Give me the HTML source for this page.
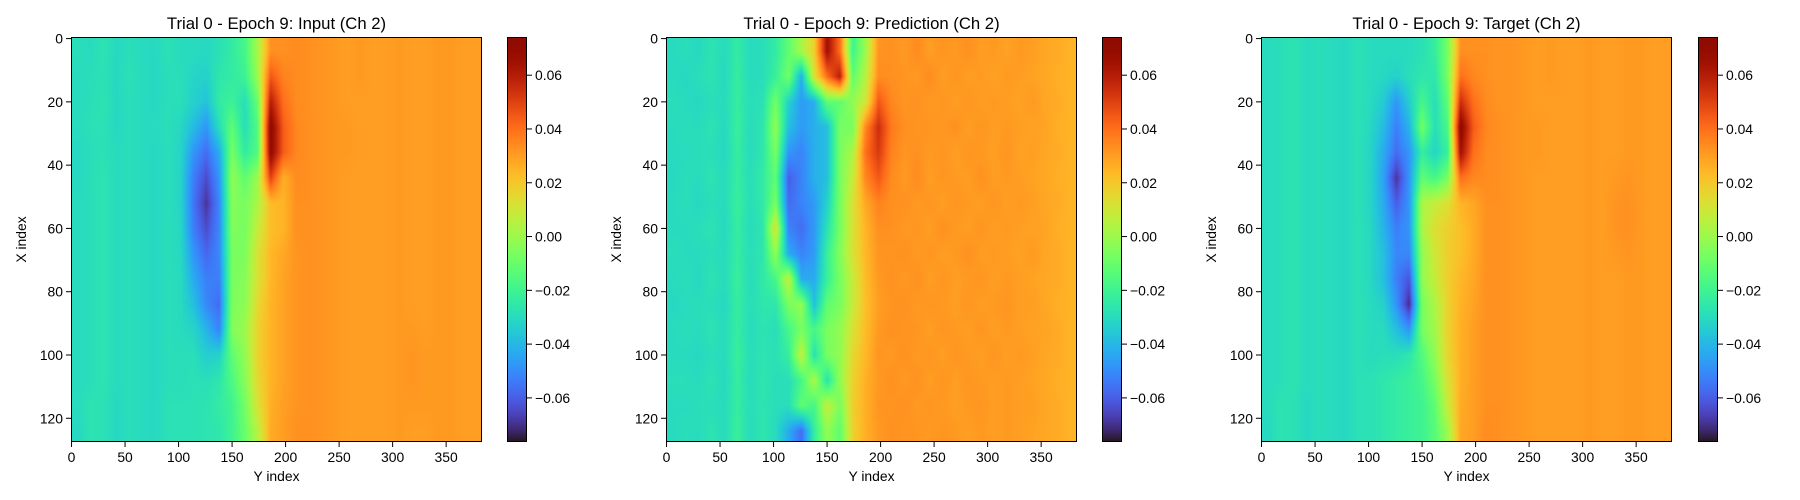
<!DOCTYPE html>
<html><head><meta charset="utf-8">
<style>
html,body{margin:0;padding:0;background:#fff;}
#fig{position:relative;width:1800px;height:500px;overflow:hidden;font-family:"Liberation Sans","DejaVu Sans",sans-serif;}
canvas{position:absolute;}
svg{position:absolute;left:0;top:0;}
</style></head>
<body>
<div id="fig">
<canvas id="c0"></canvas>
<canvas id="c1"></canvas>
<canvas id="c2"></canvas>
<canvas id="cb0"></canvas>
<canvas id="cb1"></canvas>
<canvas id="cb2"></canvas>
<svg id="ov" width="1800" height="500"></svg>
</div>
<script>
// ---- data (values in units of 0.001), rows = X index (step 8), cols = Y index (step 12)
const titles = ["Trial 0 - Epoch 9: Input (Ch 2)","Trial 0 - Epoch 9: Prediction (Ch 2)","Trial 0 - Epoch 9: Target (Ch 2)"];
const xTicks = [0,50,100,150,200,250,300,350];
const yTicks = [0,20,40,60,80,100,120];
const cbTicks = [-0.06,-0.04,-0.02,0.00,0.02,0.04,0.06];
const cbLabels = ["\u22120.06","\u22120.04","\u22120.02","0.00","0.02","0.04","0.06"];
const vmin = -0.0764, vmax = 0.0742;
const nX = 128, nY = 384;

const inputGrid = [
[-29,-30,-27,-31,-29,-30,-31,-28,-30,-30,-31,-28,-24,-18,2,33,33,34,33,32,31,30,31,30,30,31,30,30,31,31,30,30],
[-30,-29,-28,-31,-28,-30,-31,-29,-29,-32,-33,-26,-24,-21,0,45,36,34,33,32,31,30,31,30,30,31,30,30,31,31,30,30],
[-30,-29,-27,-31,-29,-30,-31,-29,-29,-33,-37,-24,-21,-29,-10,60,40,34,33,32,31,30,30,30,30,31,30,30,31,31,30,30],
[-30,-28,-28,-31,-29,-30,-30,-29,-31,-39,-48,-29,-12,-29,-15,72,44,35,33,32,31,31,30,30,30,31,30,30,31,31,30,30],
[-31,-29,-28,-30,-29,-30,-31,-29,-32,-48,-57,-43,-7,-24,-15,70,44,35,33,32,31,31,30,30,30,31,30,30,31,31,30,30],
[-31,-29,-27,-30,-29,-30,-31,-29,-32,-53,-64,-48,-2,-12,0,50,26,34,33,32,31,30,30,30,30,31,30,30,31,31,30,30],
[-30,-29,-27,-30,-29,-30,-31,-29,-32,-55,-69,-51,-4,-7,3,23,25,33,33,32,31,30,30,30,30,31,30,30,31,31,30,30],
[-30,-29,-27,-30,-29,-30,-31,-29,-31,-53,-64,-51,-5,-7,8,22,25,33,33,32,31,30,30,30,30,31,30,30,31,31,30,30],
[-30,-29,-27,-30,-29,-30,-31,-29,-31,-48,-58,-51,-7,-6,12,24,28,32,33,32,31,30,30,30,30,31,30,30,31,31,30,30],
[-30,-29,-27,-30,-29,-30,-31,-29,-30,-43,-53,-53,-7,-4,12,24,29,32,33,32,31,30,30,30,30,31,30,30,31,31,30,30],
[-30,-29,-27,-30,-29,-30,-31,-29,-30,-38,-51,-57,-6,-3,15,25,29,32,33,32,31,30,30,30,30,31,30,30,31,31,30,30],
[-30,-29,-27,-30,-29,-30,-31,-29,-30,-32,-41,-52,-5,0,17,25,29,32,33,32,31,30,30,30,30,31,31,30,31,31,30,30],
[-30,-29,-27,-30,-29,-30,-31,-29,-29,-29,-34,-33,-12,-2,17,25,29,32,33,32,31,30,30,30,30,31,32,31,31,31,30,30],
[-30,-29,-27,-30,-29,-30,-31,-29,-29,-28,-29,-26,-16,-4,15,25,29,32,33,32,31,30,30,30,30,31,32,31,31,31,30,30],
[-30,-27,-28,-31,-29,-30,-31,-28,-28,-28,-27,-24,-20,-8,12,26,30,32,33,32,31,30,30,30,30,31,31,31,31,31,30,30],
[-31,-27,-28,-31,-29,-30,-31,-28,-28,-28,-27,-26,-20,-10,5,27,30,33,33,32,31,30,30,30,30,31,30,30,31,31,30,30]
];
const predGrid = [
[-30,-29,-31,-27,-30,-24,-30,-29,-24,-12,2,18,65,40,-20,0,32,33,31,34,30,32,31,33,30,31,29,31,30,28,27,25],
[-30,-31,-29,-27,-31,-23,-30,-29,-22,-8,-42,12,40,60,-12,5,34,33,32,31,34,30,32,30,31,29,31,30,29,28,26,25],
[-29,-30,-31,-29,-30,-23,-29,-28,-8,-33,-47,-42,-12,-12,-2,10,45,35,32,33,31,32,30,32,30,31,30,29,31,28,27,25],
[-30,-29,-30,-27,-31,-22,-30,-26,-2,-38,-47,-42,-38,-7,-7,35,55,38,33,32,32,31,33,30,32,30,31,30,29,29,26,25],
[-30,-30,-29,-29,-31,-23,-30,-26,-7,-48,-52,-42,-38,-7,3,40,52,36,32,33,31,32,30,32,31,30,32,29,30,28,27,25],
[-31,-29,-30,-27,-30,-23,-29,-24,-12,-60,-52,-42,-38,-7,8,35,45,34,31,34,30,32,31,30,33,30,31,30,29,28,26,25],
[-30,-29,-31,-29,-30,-22,-29,-25,-7,-57,-52,-47,-33,-7,12,28,36,33,33,31,32,30,32,31,30,32,30,31,30,28,27,25],
[-30,-30,-29,-27,-31,-23,-30,-26,12,-52,-57,-47,-28,-7,12,25,33,33,31,32,30,33,31,30,32,30,31,30,29,29,26,25],
[-29,-30,-30,-29,-30,-23,-29,-26,-2,-43,-52,-47,-22,-5,12,24,32,32,33,31,32,30,31,33,30,31,30,29,31,28,27,25],
[-30,-29,-31,-27,-30,-22,-30,-25,-18,8,-43,-43,-22,-7,8,23,31,33,31,33,30,32,30,31,32,30,31,30,29,28,27,25],
[-31,-30,-29,-29,-31,-23,-29,-26,-26,-7,-2,-38,-12,-7,8,22,30,32,33,31,32,31,30,32,30,31,32,30,30,28,26,25],
[-30,-29,-30,-27,-30,-23,-30,-27,-29,-18,-7,-18,-7,-2,12,23,31,33,32,32,30,32,31,30,32,30,31,30,29,29,27,25],
[-30,-30,-31,-29,-30,-22,-29,-27,-28,-23,8,-28,-7,-2,15,24,32,31,33,31,32,30,32,31,30,32,30,31,30,28,27,25],
[-29,-29,-30,-27,-31,-23,-30,-26,-29,-29,-18,3,-28,-2,17,26,31,33,31,33,30,32,30,32,31,30,31,30,29,28,26,25],
[-30,-30,-29,-29,-30,-23,-29,-27,-29,-29,-12,-18,8,-7,18,26,32,32,33,31,32,31,30,31,32,30,31,30,30,28,27,25],
[-30,-29,-30,-27,-30,-22,-30,-26,-30,-43,-57,-23,-2,-12,17,26,31,33,32,32,31,32,31,30,31,30,31,30,29,28,27,25]
];
const targetGrid = [
[-30,-29,-27,-30,-29,-30,-31,-28,-30,-30,-30,-30,-28,-23,-7,33,33,33,32,32,31,30,31,30,30,31,30,30,31,31,30,30],
[-30,-29,-27,-30,-29,-30,-31,-28,-30,-31,-33,-29,-26,-26,-7,40,35,33,32,32,31,30,31,30,30,31,30,30,31,31,30,30],
[-30,-29,-27,-30,-29,-30,-31,-28,-30,-35,-48,-34,-18,-29,-12,55,40,34,32,32,31,30,30,30,30,31,30,30,31,31,30,30],
[-30,-29,-27,-30,-29,-30,-31,-28,-31,-39,-53,-41,-8,-29,-17,72,44,35,33,32,31,31,30,30,30,31,30,30,31,31,30,30],
[-30,-29,-27,-30,-29,-30,-31,-28,-32,-43,-57,-48,-23,-32,-22,65,40,34,33,32,31,31,30,30,30,31,30,30,31,31,30,30],
[-30,-29,-27,-30,-29,-30,-31,-28,-32,-45,-69,-48,-12,-18,-7,40,35,34,33,32,31,30,30,30,30,31,30,31,32,31,30,30],
[-30,-29,-27,-30,-29,-30,-31,-28,-32,-43,-60,-48,3,8,13,25,28,33,33,32,31,30,30,30,30,31,30,32,33,31,30,30],
[-30,-29,-27,-30,-29,-30,-31,-28,-31,-41,-53,-48,3,13,18,22,27,33,33,32,31,30,30,30,30,31,30,32,33,31,30,30],
[-30,-29,-27,-30,-29,-30,-31,-28,-31,-38,-51,-51,-2,10,18,22,27,33,33,32,31,30,30,30,30,31,30,31,32,31,30,30],
[-30,-29,-27,-30,-29,-30,-31,-28,-31,-38,-53,-62,-2,8,18,24,28,33,33,32,31,30,30,30,30,31,30,30,31,31,30,30],
[-30,-29,-27,-30,-29,-30,-31,-28,-30,-33,-48,-71,-7,3,17,25,29,33,33,32,31,30,30,30,30,31,30,30,31,31,30,30],
[-30,-29,-27,-30,-29,-30,-31,-28,-30,-30,-38,-48,-7,1,17,26,30,33,33,32,31,30,30,30,30,31,30,30,31,31,30,30],
[-30,-29,-27,-30,-29,-30,-31,-28,-30,-29,-29,-26,-15,-2,16,26,30,33,33,32,31,30,30,30,30,31,30,30,31,31,30,30],
[-30,-29,-27,-30,-29,-30,-31,-28,-28,-26,-24,-22,-18,-7,12,26,30,33,33,32,31,30,30,30,30,31,30,30,31,31,30,30],
[-30,-27,-28,-31,-29,-30,-31,-28,-28,-26,-24,-22,-20,-12,8,27,30,33,33,32,31,30,30,30,30,31,30,30,31,31,30,30],
[-31,-27,-28,-31,-29,-30,-31,-28,-28,-26,-24,-22,-20,-14,0,28,30,34,33,32,31,30,30,30,30,31,30,30,31,31,30,30]
];
const grids = [inputGrid, predGrid, targetGrid];

// ---- layout
const axLeft = [71, 666, 1261], axTop = 37, axW = 411, axH = 405;
const cbLeft = [507, 1102, 1698], cbW = 20;

function turbo(t){
  t = Math.max(0, Math.min(1, t));
  const r = 0.13572138 + t*(4.61539260 + t*(-42.66032258 + t*(132.13108234 + t*(-152.94239396 + t*59.28637943))));
  const g = 0.09140261 + t*(2.19418839 + t*(4.84296658 + t*(-14.18503333 + t*(4.27729857 + t*2.82956604))));
  const b = 0.10667330 + t*(12.64194608 + t*(-60.58204836 + t*(110.36276771 + t*(-89.90310912 + t*27.34824973))));
  return [Math.round(255*Math.max(0,Math.min(1,r))), Math.round(255*Math.max(0,Math.min(1,g))), Math.round(255*Math.max(0,Math.min(1,b)))];
}
function sx(v){ return (v + 0.5) / nY * axW; }
function sy(v){ return (v + 0.5) / nX * axH; }
function cbY(v){ return axTop + (vmax - v) / (vmax - vmin) * axH; }

function sample(grid, xi, yi){
  const R = grid.length, C = grid[0].length;
  let fr = (xi - 4) / 8, fc = (yi - 6) / 12;
  fr = Math.max(0, Math.min(R-1, fr)); fc = Math.max(0, Math.min(C-1, fc));
  const r0 = Math.floor(fr), c0 = Math.floor(fc);
  const r1 = Math.min(R-1, r0+1), c1 = Math.min(C-1, c0+1);
  const ar = fr - r0, ac = fc - c0;
  const v = grid[r0][c0]*(1-ar)*(1-ac) + grid[r0][c1]*(1-ar)*ac + grid[r1][c0]*ar*(1-ac) + grid[r1][c1]*ar*ac;
  return v / 1000;
}

for (let p = 0; p < 3; p++){
  const cv = document.getElementById('c'+p);
  cv.width = axW; cv.height = axH;
  cv.style.left = axLeft[p]+'px'; cv.style.top = axTop+'px';
  const ctx = cv.getContext('2d');
  const img = ctx.createImageData(axW, axH);
  for (let py = 0; py < axH; py++){
    const xi = (py + 0.5) / axH * nX - 0.5;
    for (let px = 0; px < axW; px++){
      const yi = (px + 0.5) / axW * nY - 0.5;
      const v = sample(grids[p], xi, yi);
      const c = turbo((v - vmin) / (vmax - vmin));
      const k = (py*axW + px)*4;
      img.data[k]=c[0]; img.data[k+1]=c[1]; img.data[k+2]=c[2]; img.data[k+3]=255;
    }
  }
  ctx.putImageData(img, 0, 0);

  const cb = document.getElementById('cb'+p);
  cb.width = cbW; cb.height = axH;
  cb.style.left = cbLeft[p]+'px'; cb.style.top = axTop+'px';
  const cctx = cb.getContext('2d');
  for (let py = 0; py < axH; py++){
    const v = vmax - (py + 0.5) / axH * (vmax - vmin);
    const c = turbo((v - vmin) / (vmax - vmin));
    cctx.fillStyle = 'rgb('+c[0]+','+c[1]+','+c[2]+')';
    cctx.fillRect(0, py, cbW, 1);
  }
}

// ---- overlay
const NS = 'http://www.w3.org/2000/svg';
const ov = document.getElementById('ov');
function mk(tag, attrs, parent){
  const e = document.createElementNS(NS, tag);
  for (const k in attrs) e.setAttribute(k, attrs[k]);
  (parent || ov).appendChild(e);
  return e;
}
const panelNames = ['input','prediction','target'];
for (let p = 0; p < 3; p++){
  const L = axLeft[p];
  const g = mk('g', {});
  
  
  const frame = mk('rect', {x:L+0.5, y:axTop+0.5, width:axW-1, height:axH-1, fill:'none', stroke:'#000', 'stroke-width':1}, g);
  
  
  const title = mk('text', {x:L+axW/2, y:29, 'text-anchor':'middle', 'font-size':'16.7px', fill:'#000'}, g);
  title.textContent = titles[p];
  
  
  xTicks.forEach(t => {
    const x = L + sx(t);
    mk('line', {x1:x, y1:axTop+axH, x2:x, y2:axTop+axH+5, stroke:'#000', 'stroke-width':1}, g);
    const tx = mk('text', {x:x, y:axTop+axH+20, 'text-anchor':'middle', 'font-size':'13.9px', fill:'#000'}, g);
    tx.textContent = String(t);
    
    
  });
  yTicks.forEach(t => {
    const y = axTop + sy(t);
    mk('line', {x1:L-5, y1:y, x2:L, y2:y, stroke:'#000', 'stroke-width':1}, g);
    const ty = mk('text', {x:L-8, y:y+5, 'text-anchor':'end', 'font-size':'13.9px', fill:'#000'}, g);
    ty.textContent = String(t);
    
    
  });
  const xl = mk('text', {x:L+axW/2, y:481, 'text-anchor':'middle', 'font-size':'13.9px', fill:'#000'}, g);
  xl.textContent = 'Y index';
  
  
  const yl = mk('text', {x:0, y:0, 'text-anchor':'middle', 'font-size':'13.9px', fill:'#000', transform:'translate('+(L-45)+','+(axTop+axH/2)+') rotate(-90)'}, g);
  yl.textContent = 'X index';
  
  

  const C = cbLeft[p];
  const cbf = mk('rect', {x:C+0.5, y:axTop+0.5, width:cbW-1, height:axH-1, fill:'none', stroke:'#000', 'stroke-width':1}, g);
  
  
  cbTicks.forEach((t, i) => {
    const y = cbY(t);
    mk('line', {x1:C+cbW, y1:y, x2:C+cbW+5, y2:y, stroke:'#000', 'stroke-width':1}, g);
    const tl = mk('text', {x:C+cbW+8, y:y+5, 'text-anchor':'start', 'font-size':'13.9px', fill:'#000'}, g);
    tl.textContent = cbLabels[i];
    
    
  });
}
</script>
</body></html>
